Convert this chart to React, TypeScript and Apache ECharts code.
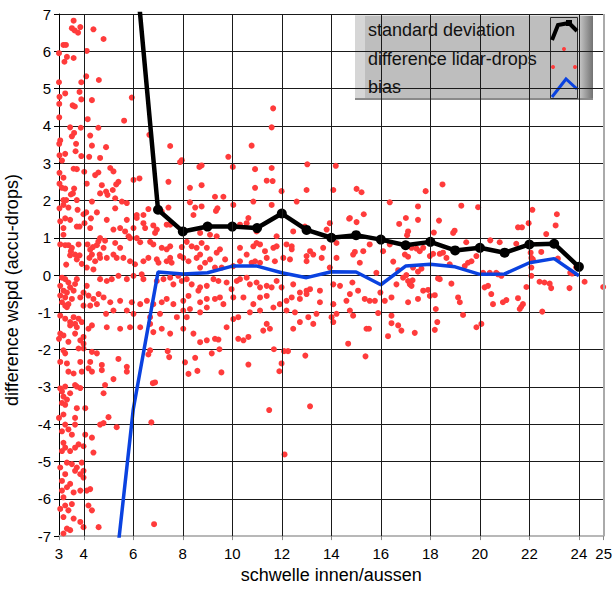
import React, { useEffect, useRef } from "react";
import * as echarts from "echarts";

// ---- axis ticks ----
const xTickValues = [3, 4, 6, 8, 10, 12, 14, 16, 18, 20, 22, 24, 25];
const xGridValues = [4, 6, 8, 10, 12, 14, 16, 18, 20, 22, 24];
const xBorderValue = 25;

// ---- standard deviation ----
const stdX = [6, 7, 8, 9, 10, 11, 12, 13, 14, 15, 16, 17, 18, 19, 20, 21, 22, 23, 24];
const stdY = [9.0, 1.75, 1.17, 1.3, 1.3, 1.26, 1.65, 1.21, 1.0, 1.07, 0.95, 0.8, 0.89, 0.66, 0.73, 0.6, 0.82, 0.84, 0.22];

// ---- bias ----
const biasX = [5, 6, 7, 8, 9, 10, 11, 12, 13, 14, 15, 16, 17, 18, 19, 20, 21, 22, 23, 24];
const biasY = [-9.6, -3.6, 0.08, 0.03, 0.06, 0.24, 0.24, 0.06, -0.07, 0.09, 0.08, -0.26, 0.24, 0.29, 0.22, 0.02, 0.03, 0.33, 0.44, -0.02];

// ---- difference lidar-drops (x, y) ----
const diffPoints: [number, number][] = [
  [3.59,6.82],[3.52,6.62],[3.63,6.56],[3.86,6.65],[3.77,6.5],[4.39,6.59],[4.8,6.33],[3.18,6.17],[3.28,6.17],[4.12,6.01],
  [3.32,5.85],[3.59,5.82],[3.22,5.72],[3.0,5.95],[4.1,5.33],[4.61,5.23],[3.9,5.17],[3.0,5.17],[3.83,4.91],[3.25,4.87],
  [3.02,4.78],[3.9,4.71],[4.33,4.69],[3.55,4.55],[3.64,4.52],[5.94,4.76],[3.01,4.59],[4.16,4.18],[5.63,4.14],[3.01,4.23],
  [3.45,3.96],[3.88,3.95],[4.59,3.95],[3.61,3.81],[3.52,3.72],[4.26,3.74],[3.05,3.61],[3.01,3.52],[3.69,3.52],[4.33,3.47],
  [4.9,3.43],[3.25,3.25],[3.02,3.21],[3.67,3.32],[3.9,3.19],[4.22,3.17],[3.12,3.07],[3.59,2.85],[3.72,2.84],[4.02,2.77],
  [3.02,2.74],[4.59,2.75],[4.46,2.68],[3.18,2.61],[4.12,2.45],[3.02,2.45],[3.61,2.32],[3.25,2.32],[3.12,2.34],[3.56,2.19],
  [3.48,2.16],[3.18,2.01],[3.29,2.01],[3.72,2.01],[4.33,1.97],[3.18,1.88],[3.02,1.79],[3.38,1.81],[3.75,1.75],[4.1,1.68],
  [4.53,1.68],[3.25,1.52],[3.99,1.63],[4.29,1.52],[3.05,1.44],[3.45,1.48],[4.03,1.39],[3.72,1.3],[3.83,1.3],[3.18,1.26],
  [4.26,1.26],[3.18,1.08],[3.05,0.82],[3.25,0.8],[3.38,0.8],[3.52,0.73],[3.79,0.82],[4.15,0.82],[4.37,0.75],[4.53,0.8],
  [4.59,0.9],[3.48,0.64],[3.45,0.53],[3.65,0.55],[3.83,0.53],[4.26,0.68],[4.33,0.55],[4.64,0.55],[3.29,0.28],[3.72,0.42],
  [3.92,0.3],[4.23,0.46],[4.46,0.37],[4.12,0.2],[4.39,0.15],
  [4.66,3.14],[5.07,2.87],[5.2,2.78],[7.96,3.08],[7.89,3.03],[8.67,2.9],[8.76,2.94],[9.84,3.17],[10.02,2.9],[10.92,2.84],
  [11.59,2.87],[13.03,2.97],[14.18,2.93],[5.4,2.5],[5.31,2.43],[6.01,2.55],[6.25,2.59],[4.73,2.41],[4.66,2.19],[4.9,2.24],
  [4.96,2.15],[5.17,2.28],[7.42,2.5],[8.76,2.41],[8.29,2.34],[9.3,2.1],[9.64,2.1],[10.92,2.34],[11.39,2.53],[11.63,2.52],
  [11.99,2.25],[13.0,2.28],[14.08,2.28],[5.27,2.06],[5.54,1.97],[5.74,1.93],[5.27,1.79],[6.61,1.77],[6.41,1.61],[6.14,1.61],
  [7.15,1.7],[7.42,1.81],[8.29,1.95],[8.5,1.81],[8.76,1.84],[9.34,1.72],[9.4,1.79],[10.04,1.88],[10.85,1.97],[10.65,1.53],
  [11.59,1.88],[12.6,1.97],[14.72,1.51],[4.93,1.48],[5.74,1.48],[6.14,1.53],[6.41,1.39],[6.01,1.26],[6.48,1.26],[5.47,1.26],
  [5.2,1.22],[5.67,1.17],[6.81,1.33],[6.95,1.22],[6.88,1.13],[7.35,1.35],[7.49,1.35],[8.43,1.61],[8.7,1.13],[9.1,1.08],
  [9.37,1.04],[10.31,1.35],[10.58,1.39],[10.98,1.17],[11.79,1.04],[12.46,1.17],[12.93,1.3],[13.81,1.22],[13.94,1.39],
  [4.66,0.99],[4.86,0.92],[4.8,0.73],[5.27,0.86],[5.47,0.73],[5.81,1.04],[5.87,0.99],[6.14,0.99],[6.28,0.88],[6.68,0.89],
  [6.81,0.82],[7.15,0.73],[7.35,0.69],[7.49,0.77],[7.96,0.75],[8.16,0.89],[8.36,0.77],[8.56,0.73],[8.76,0.86],[8.97,0.73],
  [8.7,0.55],[9.37,0.6],[9.5,0.69],[10.31,0.73],[10.58,0.55],[10.85,0.77],[10.98,0.86],[11.12,0.82],[11.32,0.64],[11.66,0.73],
  [11.79,0.77],[12.19,0.82],[12.4,0.77],[12.4,0.69],[13.0,0.51],[13.14,0.64],[13.27,0.55],[13.67,0.73],[14.21,0.86],
  [4.66,0.46],[4.93,0.46],[5.2,0.55],[5.33,0.46],[5.6,0.46],[5.87,0.37],[6.07,0.29],[6.41,0.37],[6.61,0.46],[6.95,0.42],
  [7.02,0.33],[7.35,0.37],[7.49,0.46],[7.55,0.33],[7.89,0.51],[8.02,0.46],[8.23,0.37],[8.56,0.46],[8.7,0.2],[8.9,0.33],
  [9.1,0.42],[9.3,0.2],[9.57,0.2],[9.71,0.42],[10.04,0.24],[10.31,0.37],[10.78,0.33],[10.92,0.37],[11.12,0.33],[11.39,0.46],
  [11.72,0.37],[12.06,0.46],[12.33,0.42],[13.0,0.37],[13.61,0.46],[14.21,0.46],[13.94,0.2],
  [4.66,-0.11],[4.93,-0.16],[5.13,-0.11],[5.4,-0.02],[5.74,-0.11],[6.01,-0.02],[6.34,0.02],[6.41,-0.11],[6.95,-0.16],[7.22,-0.11],
  [7.49,-0.07],[7.62,-0.25],[7.82,-0.02],[7.96,-0.16],[8.16,-0.11],[8.36,-0.25],[8.63,-0.42],[8.7,-0.33],[8.97,-0.29],[9.24,-0.11],
  [9.44,-0.16],[9.77,-0.2],[9.97,-0.38],[10.18,-0.16],[10.31,-0.11],[10.58,-0.07],[10.71,-0.25],[10.98,-0.2],[11.12,-0.33],[11.39,-0.29],
  [11.59,-0.33],[11.79,-0.16],[11.99,-0.33],[12.46,-0.25],[12.73,-0.47],[13.0,-0.42],[13.14,-0.38],[13.54,-0.42],[14.08,-0.25],[14.35,-0.29],
  [4.8,-0.6],[5.07,-0.73],[5.47,-0.69],[5.94,-0.73],[6.28,-0.78],[6.55,-0.69],[6.81,-0.78],[7.15,-0.73],[7.35,-0.64],[7.62,-0.78],
  [8.02,-0.69],[8.23,-0.56],[8.7,-0.73],[8.97,-0.64],[9.3,-0.64],[9.5,-0.6],[9.64,-0.78],[10.04,-0.6],[10.45,-0.6],[10.85,-0.78],
  [11.12,-0.6],[11.39,-0.56],[11.92,-0.78],[12.19,-0.69],[12.4,-0.6],[12.73,-0.64],[13.0,-0.51],[13.54,-0.73],[14.08,-0.78],[14.61,-0.69],
  [8.02,-0.95],[8.29,-0.91],[8.7,-1.0],[8.97,-0.87],[8.16,-1.13],[7.76,-1.13],[6.01,-1.04],[5.74,-0.95],[5.2,-0.95],[4.9,-1.04],
  [7.08,-1.04],[6.68,-1.13],[10.04,-1.18],[10.24,-1.13],[10.71,-1.0],[11.12,-0.95],[11.66,-0.87],[12.19,-0.95],[12.53,-1.0],[12.73,-1.26],
  [13.07,-1.13],[13.4,-1.04],[14.01,-1.13],[14.21,-1.04],
  [4.93,-1.4],[5.47,-1.44],[5.87,-1.4],[6.28,-1.4],[6.68,-1.31],[6.81,-1.53],[7.15,-1.44],[7.49,-1.57],[8.02,-1.44],[8.43,-1.57],
  [8.7,-1.8],[8.97,-1.75],[9.3,-1.71],[9.44,-1.73],[9.77,-1.4],[10.24,-1.71],[10.45,-1.75],[10.65,-1.66],[11.39,-1.31],[11.25,-1.49],
  [11.52,-1.44],[12.46,-1.44],[13.27,-1.31],[14.08,-1.26],[14.68,-1.84],
  [3.12,-0.07],[3.25,-0.11],[3.05,-0.29],[3.18,-0.42],[3.32,-0.47],[3.45,-0.33],[3.59,-0.42],[3.72,-0.11],[3.38,-0.2],[3.65,-0.24],
  [3.05,-0.55],[3.25,-0.6],[3.12,-0.73],[3.38,-0.78],[3.32,-0.86],[3.25,-0.82],[3.52,-0.64],[3.86,-0.6],[3.99,-0.47],[4.12,-0.29],
  [4.19,-0.55],[4.39,-0.64],[4.6,-0.51],[3.99,-0.82],[4.26,-0.82],[4.53,-0.78],[3.05,-1.09],[3.25,-1.17],[3.45,-1.26],[3.59,-1.13],
  [3.65,-1.31],[3.79,-1.17],[3.92,-1.26],[3.72,-1.4],[3.45,-1.35],[3.05,-1.57],[3.18,-1.62],[3.0,-1.71],[3.38,-1.79],[3.86,-1.75],
  [3.99,-1.66],[3.65,-1.57],[4.19,-1.44],[4.33,-1.35],[3.99,-1.84],[3.18,-2.02],[3.25,-2.1],[3.79,-1.97],[3.99,-1.97],[4.33,-2.06],
  [4.53,-2.1],[3.05,-2.33],[3.32,-2.37],[3.38,-2.59],[3.59,-2.64],[3.86,-2.33],[3.92,-2.59],[4.26,-2.33],[4.19,-2.5],[4.33,-2.59],
  [4.73,-2.41],[4.73,-2.55],[5.4,-2.25],[5.74,-2.46],[5.74,-2.59],[5.2,-2.79],[4.8,-3.17],[3.05,-3.04],[3.12,-3.12],[3.25,-2.99],
  [3.18,-3.26],[3.32,-3.34],[3.45,-3.17],[3.65,-2.95],[3.72,-2.99],[3.86,-3.03],[3.12,-3.43],[3.25,-3.48],[4.86,-2.95],[3.18,-3.74],
  [3.0,-3.83],[3.72,-3.57],[3.65,-3.83],[4.06,-3.57],[4.66,-4.01],[4.8,-3.97],[5.0,-3.81],[5.33,-4.08],[3.25,-4.01],[3.65,-4.01],
  [3.12,-4.19],[3.38,-4.14],[3.52,-4.28],[3.18,-4.5],[3.25,-4.63],[3.65,-4.63],[3.79,-4.54],[3.99,-4.59],[3.45,-4.72],[3.12,-4.72],
  [4.33,-4.36],[4.39,-4.76],[4.06,-4.28],[3.05,-5.16],[3.32,-5.03],[3.52,-5.07],[3.72,-5.16],[3.92,-5.03],[3.99,-5.25],[3.25,-5.34],
  [3.65,-5.25],[3.86,-5.34],[3.12,-5.52],[3.45,-5.6],[3.32,-5.69],[3.59,-5.83],[3.18,-5.96],[3.86,-5.78],[4.12,-5.78],[4.26,-5.74],
  [3.12,-5.78],[3.99,-5.43],[3.05,-6.27],[3.25,-6.18],[3.38,-6.31],[3.52,-6.14],[3.18,-6.49],[3.59,-6.53],[3.86,-6.62],[3.32,-6.8],
  [3.45,-6.84],[3.99,-6.76],[4.19,-6.18],[4.33,-6.31],[4.6,-6.76],[3.18,-6.93],
  [6.68,-2.02],[6.61,-2.13],[7.39,-2.04],[7.45,-2.2],[8.09,-2.34],[8.5,-2.22],[8.23,-2.65],[8.59,-2.57],[9.17,-2.1],[9.48,-1.99],
  [9.56,-2.61],[10.65,-2.4],[11.68,-1.99],[11.9,-2.58],[11.99,-2.37],[12.09,-2.04],[12.25,-2.04],[12.95,-2.16],[15.38,-2.18],[6.79,-2.9],
  [6.88,-2.88],[11.49,-3.62],[13.14,-3.52],[6.73,-3.95],[12.11,-4.81],[6.84,-6.68],
  [7.49,3.46],[10.78,3.47],[11.59,3.96],[11.65,4.47],[6.65,3.76],
  [15.02,2.31],[15.22,2.22],[15.31,1.63],[15.02,1.42],[16.36,1.95],[16.74,1.37],[17.01,1.53],[17.1,1.17],[17.06,1.07],[17.5,1.84],
  [17.5,1.48],[17.81,2.25],[18.35,1.46],[18.49,2.43],[18.14,1.14],[18.92,1.13],[18.98,1.19],[19.25,1.86],[19.45,0.88],[19.93,1.82],
  [20.42,0.93],[20.8,0.88],[21.47,0.84],[21.54,1.28],[21.7,1.28],[21.97,1.39],[22.12,1.75],[22.68,1.1],[23.11,1.63],[23.06,1.33],
  [22.48,0.62],[22.05,0.6],[22.08,0.46],[22.08,0.2],[22.08,-0.02],[21.88,-0.32],[23.15,0.44],[23.65,0.06],[23.73,0.04],[23.89,0.21],
  [24.23,-0.18],[24.98,-0.32],[15.55,0.82],[14.95,0.62],[14.88,0.55],[15.29,0.64],[14.85,-0.2],[15.15,0.33],[15.08,-0.42],[15.35,-0.64],
  [15.55,-0.69],[15.76,-0.69],[15.82,0.06],[15.89,-1.02],[15.98,-0.47],[16.09,0.64],[16.36,0.82],[16.5,0.36],[16.7,0.13],[16.16,-0.69],
  [16.43,-0.6],[16.43,-1.09],[16.43,-1.29],[16.7,-1.35],[16.29,-1.64],[16.83,-1.49],[15.42,-1.44],[15.52,-1.44],[14.75,-0.95],[14.88,-1.09],
  [14.75,-0.51],[16.63,-0.25],[16.9,-0.07],[17.03,0.0],[17.1,-0.16],[17.17,-0.25],[17.28,-0.14],[17.3,0.2],[17.1,-0.73],[17.24,-0.29],
  [17.1,0.49],[16.97,0.55],[17.24,0.73],[17.44,0.71],[17.57,0.64],[17.71,0.73],[17.5,0.09],[17.64,0.17],[17.5,-0.64],[17.71,-0.42],
  [17.91,-0.4],[17.98,-0.56],[17.98,0.51],[18.11,0.57],[18.31,-0.09],[18.38,-0.11],[18.18,-0.54],[18.22,-0.91],[18.28,-1.26],[18.18,-1.47],
  [17.37,-1.55],[18.38,0.57],[18.51,0.6],[18.65,0.46],[18.78,0.29],[18.85,-0.23],[19.12,-0.6],[19.19,-0.73],[19.32,-1.07],[19.39,0.24],
  [19.52,0.33],[19.66,0.37],[19.86,0.51],[19.86,-1.4],[20.06,-1.31],[20.13,0.06],[20.19,-0.33],[20.33,-0.29],[20.4,0.06],[20.46,-0.51],
  [20.53,-0.78],[20.66,0.06],[20.73,0.02],[20.87,-0.02],[20.93,-0.73],[21.07,-0.67],[21.54,-0.62],[21.61,-0.91],[21.67,-0.85],[21.74,-0.78],
  [22.14,0.42],[22.41,-0.18],[22.61,-0.2],[22.82,-0.23],[22.88,-0.35],[22.52,-0.98],[23.62,-0.35],[14.75,1.53]
];

const legendItems = ["standard deviation", "difference lidar-drops", "bias"];
const yTitle = "difference wspd (accu-drops)";

const FONT = '"Liberation Sans", Arial, Helvetica, sans-serif';

export default function App() {
  const ref = useRef<HTMLDivElement>(null);

  useEffect(() => {
    if (!ref.current) return;
    const chart = echarts.init(ref.current, undefined, { renderer: "svg" });

    const bevel = new echarts.graphic.LinearGradient(0, 0, 1, 0, [
      { offset: 0, color: "#cfcfcf" },
      { offset: 1, color: "#727272" },
    ]);

    const option: any = {
      animation: false,
      backgroundColor: "#ffffff",
      grid: { left: 59, top: 14, width: 545, height: 527, containLabel: false },
      xAxis: {
        type: "value",
        min: 3,
        max: 25,
        name: "schwelle innen/aussen",
        nameLocation: "middle",
        nameGap: 27,
        nameTextStyle: { fontFamily: FONT, fontSize: 18, color: "#000" },
        axisLine: { show: true, onZero: false, lineStyle: { color: "#b8b8b8", width: 2 } },
        axisTick: { show: true, length: 4, customValues: xTickValues, lineStyle: { color: "#888" } },
        axisLabel: { customValues: xTickValues, margin: 10, fontFamily: FONT, fontSize: 15, color: "#000" },
        splitLine: { show: false },
      },
      yAxis: {
        type: "value",
        min: -7,
        max: 7,
        interval: 1,
        axisLine: { show: true, onZero: false, lineStyle: { color: "#000", width: 1 } },
        axisTick: { show: true, length: 5, lineStyle: { color: "#000" } },
        axisLabel: { margin: 8, fontFamily: FONT, fontSize: 15, color: "#000" },
        splitLine: { show: true, lineStyle: { color: "#1a1a1a", width: 1 } },
      },
      series: [
        {
          name: "grid",
          type: "line",
          data: [],
          z: 1,
          silent: true,
          markLine: {
            silent: true,
            symbol: ["none", "none"],
            label: { show: false },
            lineStyle: { color: "#1a1a1a", width: 1, type: "solid" },
            data: [
              ...xGridValues.map((v) => ({ xAxis: v })),
              { xAxis: xBorderValue, lineStyle: { color: "#aaaaaa", width: 2, type: "solid" } },
            ],
          },
        },
        {
          name: "difference lidar-drops",
          type: "scatter",
          data: diffPoints,
          symbol: "circle",
          symbolSize: 6,
          itemStyle: { color: "#ff3b3b", opacity: 1 },
          z: 2,
        },
        {
          name: "bias",
          type: "line",
          data: biasX.map((x, i) => [x, biasY[i]]),
          showSymbol: false,
          symbol: "none",
          lineStyle: { color: "#0a42e0", width: 3.5 },
          clip: true,
          z: 3,
        },
        {
          name: "standard deviation",
          type: "line",
          data: stdX.map((x, i) => [x, stdY[i]]),
          symbol: "circle",
          symbolSize: 10,
          showSymbol: true,
          itemStyle: { color: "#000" },
          lineStyle: { color: "#000", width: 4.5 },
          clip: true,
          z: 4,
        },
      ],
      graphic: [
        {
          type: "text",
          x: 12,
          y: 290,
          rotation: Math.PI / 2,
          style: {
            text: yTitle,
            fill: "#000",
            font: `18px ${FONT}`,
            align: "center",
            verticalAlign: "middle",
          },
        },
        {
          type: "group",
          z: 100,
          children: [
            { type: "rect", shape: { x: 355, y: 15, width: 238, height: 85 }, style: { fill: "#bebebe" } },
            { type: "rect", shape: { x: 355, y: 15, width: 10, height: 85 }, style: { fill: "#d6d6d6" } },
            { type: "rect", shape: { x: 578, y: 15, width: 15, height: 85 }, style: { fill: bevel } },
            { type: "line", shape: { x1: 355, y1: 15.5, x2: 593, y2: 15.5 }, style: { stroke: "#e2e2e2", lineWidth: 1 } },
            { type: "rect", shape: { x: 355, y: 98, width: 238, height: 2 }, style: { fill: "#8a8a8a" } },
            {
              type: "rect",
              shape: { x: 550.5, y: 17.5, width: 27, height: 81 },
              style: { fill: "#bebebe", stroke: "#2a2a2a", lineWidth: 1 },
            },
            ...legendItems.map((t, i) => ({
              type: "text",
              x: 368,
              y: 30 + i * 28.5,
              style: { text: t, fill: "#111", font: `18px ${FONT}`, verticalAlign: "middle" },
            })),
            {
              type: "polyline",
              shape: { points: [[552, 40], [558, 25], [569, 23], [577, 31]] },
              style: { stroke: "#000", lineWidth: 4, fill: "none" },
            },
            { type: "rect", shape: { x: 566, y: 20, width: 6, height: 6 }, style: { fill: "#000" } },
            { type: "circle", shape: { cx: 564, cy: 49, r: 2 }, style: { fill: "#ff3b3b" } },
            { type: "circle", shape: { cx: 553, cy: 67, r: 2 }, style: { fill: "#ff3b3b" } },
            { type: "circle", shape: { cx: 575, cy: 67, r: 2 }, style: { fill: "#ff3b3b" } },
            {
              type: "polyline",
              shape: { points: [[552, 97], [566, 79], [577, 89]] },
              style: { stroke: "#0a42e0", lineWidth: 3, fill: "none" },
            },
          ],
        },
      ],
    };

    chart.setOption(option);
    return () => chart.dispose();
  }, []);

  return (
    <div
      ref={ref}
      style={{ position: "fixed", left: 0, top: 0, width: 615, height: 589, background: "#fff" }}
    />
  );
}
